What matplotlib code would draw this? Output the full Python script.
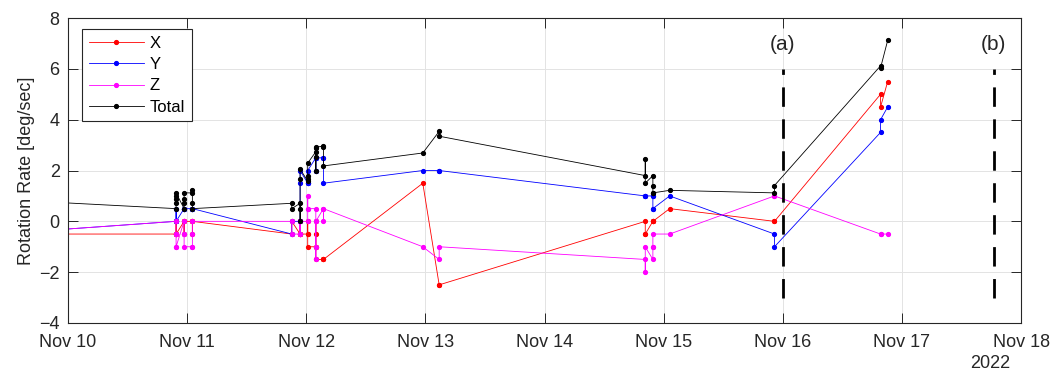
import pandas as pd
import matplotlib
matplotlib.use('Agg')
import matplotlib.pyplot as plt
import matplotlib.dates as mdates

plt.rcParams['font.family'] = ['Liberation Sans', 'DejaVu Sans']

# Sample times (UTC) of each rate reading; repeated stamps are bursts
times = [
    '2022-11-09 09:36',
    '2022-11-10 21:46', '2022-11-10 21:46', '2022-11-10 21:46', '2022-11-10 21:46', '2022-11-10 21:46',
    '2022-11-10 23:23', '2022-11-10 23:23', '2022-11-10 23:23', '2022-11-10 23:23',
    '2022-11-11 01:03', '2022-11-11 01:03', '2022-11-11 01:03', '2022-11-11 01:03',
    '2022-11-11 21:04', '2022-11-11 21:04',
    '2022-11-11 22:45', '2022-11-11 22:45', '2022-11-11 22:45', '2022-11-11 22:45', '2022-11-11 22:45',
    '2022-11-12 00:17', '2022-11-12 00:17', '2022-11-12 00:17', '2022-11-12 00:17',
    '2022-11-12 01:55', '2022-11-12 01:55', '2022-11-12 01:55', '2022-11-12 01:55', '2022-11-12 01:55',
    '2022-11-12 03:27', '2022-11-12 03:27', '2022-11-12 03:27',
    '2022-11-12 23:28',
    '2022-11-13 02:46', '2022-11-13 02:46',
    '2022-11-14 20:17', '2022-11-14 20:17', '2022-11-14 20:17',
    '2022-11-14 21:49', '2022-11-14 21:49', '2022-11-14 21:49', '2022-11-14 21:49',
    '2022-11-15 01:12',
    '2022-11-15 22:19', '2022-11-15 22:19',
    '2022-11-16 19:41', '2022-11-16 19:41',
    '2022-11-16 21:07',
]

rate_x = [
    -0.5,
    -0.5, -0.5, -0.5, 0.0, -0.5,
    0.0, 0.0, -0.5, 0.0,
    0.0, -0.5, 0.0, 0.0,
    -0.5, 0.0,
    -0.5, 0.0, -0.5, -0.5, -0.5,
    -0.5, 0.0, -0.5, -1.0,
    -1.0, -1.0, -0.5, 0.0, -1.5,
    -1.5, -1.5, -1.5,
    1.5,
    -2.5, -2.5,
    0.0, -0.5, -0.5,
    0.0, 0.0, 0.0, 0.0,
    0.5,
    0.0, 0.0,
    5.0, 4.5,
    5.5,
]

rate_y = [
    -0.5,
    0.0, 0.0, 0.5, 0.0, 0.0,
    0.5, 0.5, 0.5, 0.5,
    0.5, 0.5, 0.5, 0.5,
    -0.5, 0.0,
    0.0, 0.0, 0.0, 1.5, 2.0,
    1.5, 1.5, 1.5, 2.0,
    2.5, 2.5, 2.0, 2.0, 2.5,
    2.5, 2.5, 1.5,
    2.0,
    2.0, 2.0,
    1.0, 1.0, 1.0,
    1.0, 1.0, 0.5, 0.5,
    1.0,
    -0.5, -1.0,
    3.5, 4.0,
    4.5,
]

rate_z = [
    -0.5,
    0.0, -0.5, -0.5, -1.0, -1.0,
    0.0, -0.5, -0.5, -1.0,
    -1.0, -1.0, -0.5, 0.0,
    0.0, -0.5,
    -0.5, 0.0, 0.0, -0.5, 0.0,
    0.0, 1.0, 0.5, 0.5,
    0.5, -1.0, -1.5, 0.0, 0.0,
    0.5, 0.0, 0.5,
    -1.0,
    -1.5, -1.0,
    -1.5, -2.0, -1.0,
    -1.5, -1.0, -1.0, -0.5,
    -0.5,
    1.0, 1.0,
    -0.5, -0.5,
    -0.5,
]

rate_total = [
    0.87,
    0.50, 0.71, 0.87, 1.00, 1.12,
    0.50, 0.71, 0.87, 1.12,
    1.12, 1.22, 0.71, 0.50,
    0.71, 0.50,
    0.71, 0.00, 0.50, 1.66, 2.06,
    1.58, 1.80, 1.66, 2.29,
    2.74, 2.87, 2.55, 2.00, 2.92,
    2.96, 2.92, 2.18,
    2.69,
    3.54, 3.35,
    1.80, 2.44, 1.50,
    1.80, 1.41, 1.12, 1.12,
    1.22,
    1.12, 1.41,
    6.12, 6.04,
    7.12,
]

event_times = ['2022-11-16 00:00', '2022-11-17 18:30']
event_labels = ['(a)', '(b)']

t = pd.to_datetime(times)

fig = plt.figure(figsize=(10.63, 3.76), dpi=100)
ax = fig.add_axes([0.064, 0.141, 0.8966, 0.811])

ax.plot(t, rate_x, color='#ff0000', marker='.', ms=5.5, lw=0.6, label='X')
ax.plot(t, rate_y, color='#0000ff', marker='.', ms=5.5, lw=0.6, label='Y')
ax.plot(t, rate_z, color='#ff00ff', marker='.', ms=5.5, lw=0.6, label='Z')
ax.plot(t, rate_total, color='black', marker='.', ms=5.5, lw=0.6, label='Total')

# event markers
for et, lab in zip(pd.to_datetime(event_times), event_labels):
    ax.plot([et, et], [-3, 6], color='black', lw=2, linestyle=(0, (7, 4.5)))
    ax.text(et, 6.95, lab, ha='center', va='center', fontsize=15, color='#262626')

ax.set_xlim(pd.Timestamp('2022-11-10'), pd.Timestamp('2022-11-18'))
ax.set_ylim(-4, 8)
ax.set_yticks(range(-4, 9, 2))
ax.xaxis.set_major_locator(mdates.DayLocator())
ax.xaxis.set_major_formatter(mdates.DateFormatter('%b %d'))

ax.set_axisbelow(True)
ax.grid(True, color='#e3e3e3', lw=0.7)
ax.tick_params(direction='in', length=7, width=0.7, top=True, right=True,
               labelsize=13, colors='#262626')
ax.tick_params(axis='y', pad=6)
ax.tick_params(axis='x', pad=8)
for s in ax.spines.values():
    s.set_color('#262626')
    s.set_linewidth(0.8)

ax.set_ylabel('Rotation Rate [deg/sec]', fontsize=13, color='#262626', labelpad=3)
fig.text(990 / 1063, 1 - 363 / 376, '2022', ha='center', va='center',
         fontsize=13, color='#262626')

leg = ax.legend(loc='upper left', bbox_to_anchor=(0.0147, 0.964), borderaxespad=0,
                fontsize=12, handlelength=3.3, handletextpad=0.35, labelspacing=0.38,
                borderpad=0.4, fancybox=False, framealpha=1)
leg.get_frame().set_edgecolor('#262626')
leg.get_frame().set_linewidth(0.8)

fig.savefig('out.png', dpi=100)
